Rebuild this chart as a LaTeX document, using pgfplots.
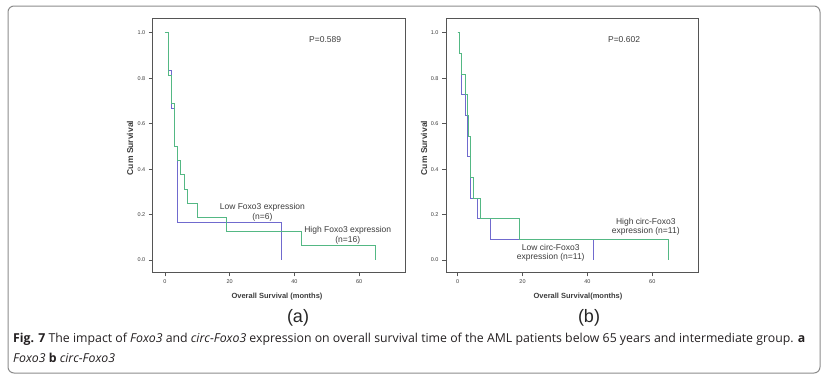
\documentclass[border=0pt]{standalone}
\usepackage{fontspec}
\setmainfont{Liberation Sans}
\newfontfamily\capfont{Open Sans}
\usepackage{pgfplots}
\pgfplotsset{compat=1.18}
\definecolor{kmgreen}{RGB}{84,184,132}
\definecolor{kmblue}{RGB}{112,106,206}
\definecolor{framegray}{RGB}{85,85,85}
\definecolor{txtgray}{RGB}{60,60,60}
\definecolor{capcol}{RGB}{35,31,32}

\pgfplotsset{kmaxis/.style={
  scale only axis, width=252.3pt, height=254.3pt, anchor=north west,
  ymin=-0.054, ymax=1.065,
  xtick={0,20,40,60}, ytick={0,0.2,0.4,0.6,0.8,1.0},
  yticklabels={0.0,0.2,0.4,0.6,0.8,1.0},
  tick pos=left, tick align=outside, major tick length=4pt,
  axis line style={framegray, line width=0.9pt},
  every tick/.style={framegray, line width=0.8pt},
  tick label style={font=\fontsize{5.5}{6}\selectfont, text=txtgray},
  /pgf/number format/assume math mode=true,
  clip=false,
}}

\begin{document}
\begin{tikzpicture}
\useasboundingbox (0pt,0pt) rectangle (828pt,-378pt);
\draw[rounded corners=6pt, color=black!45, line width=1pt] (8pt,-6pt) rectangle (820pt,-373pt);

% ---------- panel (a)
\begin{axis}[kmaxis, at={(152.7pt,-18pt)}, xmin=-3.8, xmax=74.2]
\addplot[const plot, color=kmblue, line width=0.9pt] coordinates {
 (0,1) (1.03,0.8333) (2.06,0.6667) (2.8,0.5) (3.8,0.1667) (36.1,0)};
\addplot[const plot, color=kmgreen, line width=0.9pt] coordinates {
 (0,1) (1.03,0.8125) (2.06,0.6875) (2.8,0.5) (3.8,0.4375) (4.85,0.375)
 (5.9,0.3125) (6.9,0.25) (10.1,0.1875) (19.1,0.125) (42.1,0.0625) (65.2,0)};
\node[font=\fontsize{8.5}{10}\selectfont, text=txtgray] at (axis cs:49.5,0.968) {P=0.589};
\node[font=\fontsize{8.5}{9.5}\selectfont, text=txtgray, align=center] at (axis cs:30.1,0.211) {Low Foxo3 expression\\(n=6)};
\node[font=\fontsize{8.5}{9.5}\selectfont, text=txtgray, align=center] at (axis cs:56.5,0.1085) {High Foxo3 expression\\(n=16)};
\end{axis}

% ---------- panel (b)
\begin{axis}[kmaxis, at={(446pt,-18pt)}, xmin=-3.6, xmax=74.2]
\addplot[const plot, color=kmblue, line width=0.9pt] coordinates {
 (0,1) (0.7,0.9091) (1.2,0.7273) (2.25,0.6364) (3.07,0.4545) (3.8,0.2727)
 (6.0,0.1818) (10.2,0.0909) (41.9,0)};
\addplot[const plot, color=kmgreen, line width=0.9pt] coordinates {
 (0,1) (0.7,0.9091) (1.2,0.8182) (2.25,0.7273) (3.07,0.6364) (3.4,0.5455)
 (3.8,0.3636) (4.9,0.2727) (6.9,0.1818) (19.2,0.0909) (64.9,0)};
\node[font=\fontsize{8.5}{10}\selectfont, text=txtgray] at (axis cs:51.3,0.968) {P=0.602};
\node[font=\fontsize{8.5}{9.5}\selectfont, text=txtgray, align=center] at (axis cs:58,0.147) {High circ-Foxo3\\expression (n=11)};
\node[font=\fontsize{8.5}{9.5}\selectfont, text=txtgray, align=center] at (axis cs:28.7,0.032) {Low circ-Foxo3\\expression (n=11)};
\end{axis}

% axis titles
\node[rotate=90, font=\bfseries\fontsize{8.5}{10}\selectfont, text=txtgray] at (130pt,-148pt) {Cum Survival};
\node[rotate=90, font=\bfseries\fontsize{8.5}{10}\selectfont, text=txtgray] at (424pt,-148pt) {Cum Survival};
\node[font=\bfseries\fontsize{7.5}{9}\selectfont, text=txtgray] at (277pt,-297pt) {Overall Survival (months)};
\node[font=\bfseries\fontsize{7.5}{9}\selectfont, text=txtgray] at (578pt,-297pt) {Overall Survival(months)};
\node[font=\fontsize{18}{20}\selectfont, text=black!85] at (298pt,-318pt) {(a)};
\node[font=\fontsize{18}{20}\selectfont, text=black!85] at (589pt,-318pt) {(b)};

% caption
\node[anchor=base west, inner sep=0pt, font=\capfont\fontsize{12.3}{14}\selectfont, text=capcol] at (13pt,-342pt)
 {\textbf{Fig. 7} The impact of \textit{Foxo3} and \textit{circ-Foxo3} expression on overall survival time of the AML patients below 65 years and intermediate group. \textbf{a}};
\node[anchor=base west, inner sep=0pt, font=\capfont\fontsize{12.3}{14}\selectfont, text=capcol] at (13pt,-362pt)
 {\textit{Foxo3} \textbf{b} \textit{circ-Foxo3}};
\end{tikzpicture}
\end{document}
